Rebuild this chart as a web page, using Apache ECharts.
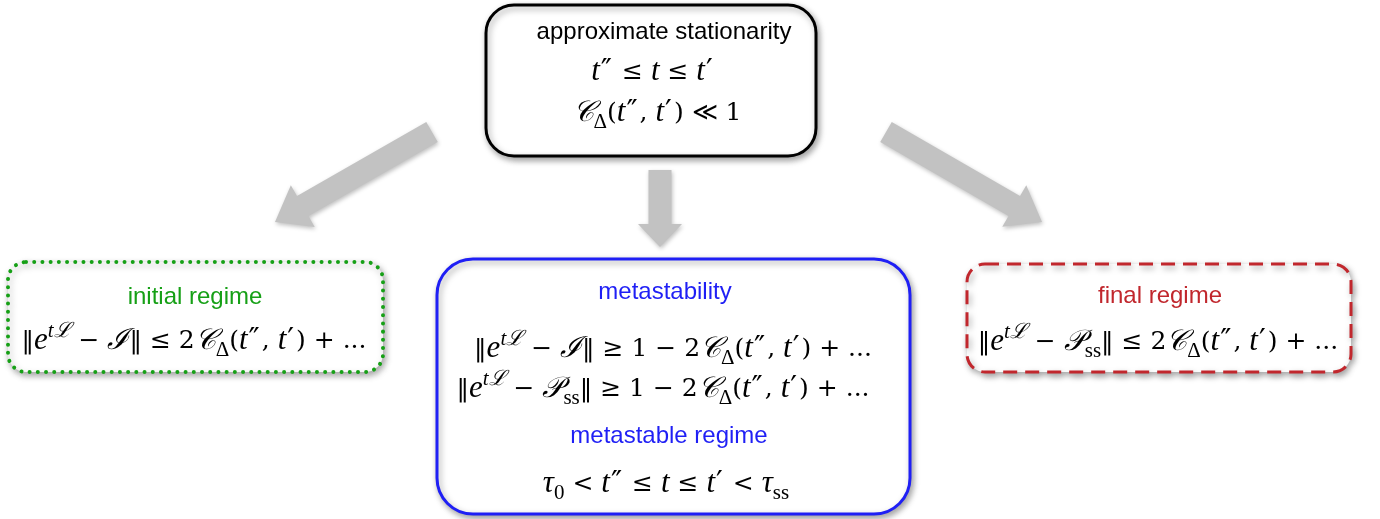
<!DOCTYPE html>
<html><head><meta charset="utf-8">
<script src="https://cdn.jsdelivr.net/npm/echarts@6/dist/echarts.min.js"></script>
<style>html,body{margin:0;padding:0;background:#fff}#c{width:1380px;height:519px}</style>
</head><body><div id="c"></div>
<script>
// ---- content (text) ----
const topTitle = 'approximate stationarity';
const topFormulas = [
  '{i|t}{p|″}{n| ≤ }{i|t}{n| ≤ }{i|t}{p|′}',
  '{c|𝒞}{sub|Δ}{n|(}{i|t}{p|″}{n|, }{i|t}{p|′}{n|) ≪ 1}'
];
const leftTitle = 'initial regime';
const leftFormulas = ['{n|‖}{i|e}{sup|tℒ}{n| − }{c|ℐ}{n|‖ ≤ 2}{c|𝒞}{sub|Δ}{n|(}{i|t}{p|″}{n|, }{i|t}{p|′}{n|) + ...}'];
const midTitles = ['metastability', 'metastable regime'];
const midFormulas = [
  '{n|‖}{i|e}{sup|tℒ}{n| − }{c|ℐ}{n|‖ ≥ 1 − 2}{c|𝒞}{sub|Δ}{n|(}{i|t}{p|″}{n|, }{i|t}{p|′}{n|) + ...}',
  '{n|‖}{i|e}{sup|tℒ}{n| − }{c|𝒫}{sub|ss}{n|‖ ≥ 1 − 2}{c|𝒞}{sub|Δ}{n|(}{i|t}{p|″}{n|, }{i|t}{p|′}{n|) + ...}',
  '{i|τ}{sub|0}{n| < }{i|t}{p|″}{n| ≤ }{i|t}{n| ≤ }{i|t}{p|′}{n| < }{i|τ}{sub|ss}'
];
const rightTitle = 'final regime';
const rightFormulas = ['{n|‖}{i|e}{sup|tℒ}{n| − }{c|𝒫}{sub|ss}{n|‖ ≤ 2}{c|𝒞}{sub|Δ}{n|(}{i|t}{p|″}{n|, }{i|t}{p|′}{n|) + ...}'];

// ---- layout ----
const SERIF = '"Liberation Serif","DejaVu Serif",serif';
const DSERIF = '"DejaVu Serif","Liberation Serif",serif';
const SANS = '"Liberation Sans",Arial,sans-serif';
function richFor(color) {
  return {
    n: {fontFamily: DSERIF, fontSize: 25, fill: color, lineHeight: 40},
    i: {fontFamily: SERIF, fontSize: 31, fontStyle: 'italic', fill: color, lineHeight: 40},
    c: {fontFamily: SERIF, fontSize: 29, fontStyle: 'italic', fill: color, lineHeight: 40},
    p: {fontFamily: '"DejaVu Sans",sans-serif', fontSize: 30, fill: color, lineHeight: 40, padding: [0, 2, 0, 1]},
    sup: {fontFamily: SERIF, fontSize: 21, fontStyle: 'italic', fill: color, verticalAlign: 'top', lineHeight: 22},
    sub: {fontFamily: SERIF, fontSize: 21, fill: color, verticalAlign: 'bottom', lineHeight: 27}
  };
}
const shadow = {shadowBlur: 6, shadowColor: 'rgba(0,0,0,0.35)', shadowOffsetX: 2, shadowOffsetY: 3};
const boxes = [
  {x: 486, y: 5, w: 330, h: 151, r: 28, stroke: '#000000', lw: 3, dash: null, cap: 'butt'},
  {x: 8, y: 262, w: 375, h: 110, r: 18, stroke: '#16a016', lw: 4, dash: [0.01, 8.2], cap: 'round'},
  {x: 437, y: 259, w: 473, h: 255, r: 36, stroke: '#1f1ff5', lw: 3, dash: null, cap: 'butt'},
  {x: 967, y: 264, w: 384, h: 108, r: 18, stroke: '#c1272d', lw: 3, dash: [14, 8], cap: 'butt'}
];
const arrows = [
  {from: [432, 132], to: [275, 222], body: 23, head: 48, headLen: 32},
  {from: [660, 170], to: [660, 247], body: 23, head: 44, headLen: 23},
  {from: [886, 132], to: [1042, 222], body: 23, head: 48, headLen: 32}
];
function arrowPts(a) {
  const dx = a.to[0] - a.from[0], dy = a.to[1] - a.from[1];
  const L = Math.hypot(dx, dy), ux = dx / L, uy = dy / L, nx = -uy, ny = ux;
  const bx = a.to[0] - ux * a.headLen, by = a.to[1] - uy * a.headLen;
  const hb = a.body / 2, hh = a.head / 2;
  return [
    [a.from[0] + nx * hb, a.from[1] + ny * hb],
    [bx + nx * hb, by + ny * hb],
    [bx + nx * hh, by + ny * hh],
    a.to,
    [bx - nx * hh, by - ny * hh],
    [bx - nx * hb, by - ny * hb],
    [a.from[0] - nx * hb, a.from[1] - ny * hb]
  ];
}

const elements = [];
arrows.forEach(a => elements.push({
  type: 'polygon', shape: {points: arrowPts(a)},
  style: {fill: '#c2c2c2', shadowBlur: 4, shadowColor: 'rgba(0,0,0,0.25)', shadowOffsetX: 1, shadowOffsetY: 2}
}));
boxes.forEach(b => elements.push({
  type: 'rect', shape: {x: b.x, y: b.y, width: b.w, height: b.h, r: b.r},
  style: Object.assign({fill: '#fff', stroke: b.stroke, lineWidth: b.lw, lineDash: b.dash, lineCap: b.cap}, shadow)
}));
function title(txt, x, y, color) {
  elements.push({type: 'text', x: x, y: y, style: {text: txt, fontFamily: SANS, fontSize: 24, fill: color, align: 'center', verticalAlign: 'middle'}});
}
function formula(txt, x, y, color) {
  elements.push({type: 'text', x: x, y: y, style: {text: txt, rich: richFor(color), fill: color, align: 'center', verticalAlign: 'middle'}});
}
title(topTitle, 664, 32, '#000');
formula(topFormulas[0], 653, 72, '#000');
formula(topFormulas[1], 657, 113, '#000');
title(leftTitle, 195, 297, '#16a016');
formula(leftFormulas[0], 194, 341, '#000');
title(midTitles[0], 665, 292, '#1f1ff5');
formula(midFormulas[0], 673, 349, '#000');
formula(midFormulas[1], 663, 389, '#000');
title(midTitles[1], 669, 436, '#1f1ff5');
formula(midFormulas[2], 666, 484, '#000');
title(rightTitle, 1160, 296, '#c1272d');
formula(rightFormulas[0], 1158, 342, '#000');

const chart = echarts.init(document.getElementById('c'));
chart.setOption({backgroundColor: '#fff', animation: false, graphic: {elements: elements}});
</script></body></html>
